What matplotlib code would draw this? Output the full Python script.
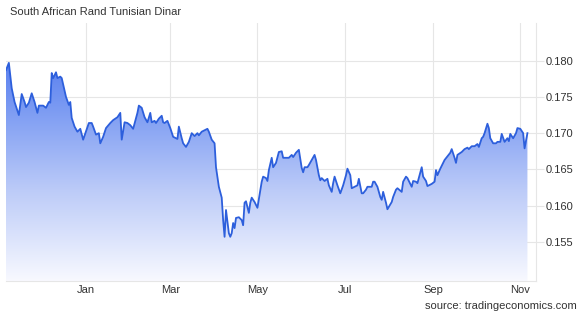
import numpy as np
import pandas as pd
import matplotlib
matplotlib.use("Agg")
import matplotlib.pyplot as plt
import matplotlib.dates as mdates
from matplotlib.colors import LinearSegmentedColormap
from matplotlib.patches import Polygon

plt.rcParams["font.family"] = ["Liberation Sans", "DejaVu Sans"]

title = "South African Rand Tunisian Dinar"
source = "source: tradingeconomics.com"

# ZAR/TND daily closes
dates = [
    "2024-11-06", "2024-11-08", "2024-11-10", "2024-11-12", "2024-11-15", "2024-11-17",
    "2024-11-19", "2024-11-20", "2024-11-22", "2024-11-24", "2024-11-26", "2024-11-28",
    "2024-11-29", "2024-12-02", "2024-12-04", "2024-12-06", "2024-12-07", "2024-12-08",
    "2024-12-09", "2024-12-11", "2024-12-12", "2024-12-14", "2024-12-15", "2024-12-18",
    "2024-12-20", "2024-12-21", "2024-12-22", "2024-12-24", "2024-12-26", "2024-12-28",
    "2024-12-30", "2025-01-03", "2025-01-05", "2025-01-06", "2025-01-08", "2025-01-10",
    "2025-01-11", "2025-01-13", "2025-01-15", "2025-01-18", "2025-01-20", "2025-01-23",
    "2025-01-25", "2025-01-26", "2025-01-28", "2025-01-30", "2025-02-01", "2025-02-03",
    "2025-02-06", "2025-02-07", "2025-02-09", "2025-02-11", "2025-02-13", "2025-02-15",
    "2025-02-16", "2025-02-18", "2025-02-19", "2025-02-21", "2025-02-23", "2025-02-24",
    "2025-02-25", "2025-02-27", "2025-03-01", "2025-03-03", "2025-03-06", "2025-03-07",
    "2025-03-09", "2025-03-10", "2025-03-12", "2025-03-14", "2025-03-16", "2025-03-18",
    "2025-03-20", "2025-03-21", "2025-03-23", "2025-03-27", "2025-03-28", "2025-03-30",
    "2025-04-01", "2025-04-02", "2025-04-04", "2025-04-06", "2025-04-07", "2025-04-08",
    "2025-04-09", "2025-04-11", "2025-04-12", "2025-04-13", "2025-04-14", "2025-04-15",
    "2025-04-16", "2025-04-18", "2025-04-20", "2025-04-21", "2025-04-22", "2025-04-23",
    "2025-04-25", "2025-04-26", "2025-04-27", "2025-04-29", "2025-05-01", "2025-05-04",
    "2025-05-05", "2025-05-07", "2025-05-08", "2025-05-09", "2025-05-11", "2025-05-12",
    "2025-05-14", "2025-05-16", "2025-05-18", "2025-05-19", "2025-05-21", "2025-05-23",
    "2025-05-25", "2025-05-26", "2025-05-28", "2025-05-30", "2025-06-01", "2025-06-02",
    "2025-06-03", "2025-06-05", "2025-06-06", "2025-06-08", "2025-06-10", "2025-06-11",
    "2025-06-13", "2025-06-14", "2025-06-15", "2025-06-17", "2025-06-19", "2025-06-20",
    "2025-06-22", "2025-06-23", "2025-06-24", "2025-06-26", "2025-06-28", "2025-06-30",
    "2025-07-02", "2025-07-03", "2025-07-05", "2025-07-06", "2025-07-08", "2025-07-10",
    "2025-07-11", "2025-07-13", "2025-07-14", "2025-07-16", "2025-07-17", "2025-07-20",
    "2025-07-21", "2025-07-22", "2025-07-24", "2025-07-26", "2025-07-27", "2025-07-28",
    "2025-07-30", "2025-07-31", "2025-08-03", "2025-08-04", "2025-08-06", "2025-08-07",
    "2025-08-10", "2025-08-11", "2025-08-13", "2025-08-14", "2025-08-17", "2025-08-18",
    "2025-08-20", "2025-08-21", "2025-08-24", "2025-08-25", "2025-08-27", "2025-08-28",
    "2025-08-31", "2025-09-02", "2025-09-03", "2025-09-04", "2025-09-06", "2025-09-08",
    "2025-09-09", "2025-09-11", "2025-09-13", "2025-09-14", "2025-09-16", "2025-09-17",
    "2025-09-18", "2025-09-21", "2025-09-23", "2025-09-25", "2025-09-26", "2025-09-28",
    "2025-09-30", "2025-10-02", "2025-10-03", "2025-10-05", "2025-10-06", "2025-10-07",
    "2025-10-09", "2025-10-10", "2025-10-11", "2025-10-13", "2025-10-15", "2025-10-16",
    "2025-10-18", "2025-10-19", "2025-10-21", "2025-10-23", "2025-10-24", "2025-10-25",
    "2025-10-27", "2025-10-29", "2025-10-30", "2025-11-01", "2025-11-03", "2025-11-04",
    "2025-11-06",
]
values = [
    0.1787, 0.1797, 0.1762, 0.1743, 0.1725, 0.1754,
    0.1743, 0.1736, 0.1742, 0.1755, 0.1743, 0.1728,
    0.1738, 0.1738, 0.1735, 0.1743, 0.1742, 0.1783,
    0.1776, 0.1784, 0.1776, 0.1778, 0.1776, 0.1750,
    0.1739, 0.1743, 0.1721, 0.1709, 0.1702, 0.1706,
    0.1691, 0.1714, 0.1714, 0.1709, 0.1698, 0.1700,
    0.1686, 0.1695, 0.1707, 0.1714, 0.1718, 0.1722,
    0.1728, 0.1691, 0.1715, 0.1714, 0.1711, 0.1706,
    0.1728, 0.1738, 0.1735, 0.1722, 0.1715, 0.1728,
    0.1715, 0.1717, 0.1714, 0.1720, 0.1724, 0.1715,
    0.1714, 0.1717, 0.1707, 0.1695, 0.1692, 0.1709,
    0.1693, 0.1686, 0.1681, 0.1688, 0.1700, 0.1696,
    0.1700, 0.1697, 0.1702, 0.1706, 0.1702, 0.1691,
    0.1686, 0.1653, 0.1626, 0.1611, 0.1580, 0.1557,
    0.1594, 0.1562, 0.1557, 0.1562, 0.1576, 0.1569,
    0.1583, 0.1584, 0.1580, 0.1573, 0.1604, 0.1606,
    0.1590, 0.1604, 0.1611, 0.1605, 0.1597, 0.1633,
    0.1640, 0.1638, 0.1634, 0.1649, 0.1666, 0.1653,
    0.1659, 0.1674, 0.1675, 0.1666, 0.1666, 0.1666,
    0.1670, 0.1667, 0.1673, 0.1677, 0.1652, 0.1646,
    0.1653, 0.1653, 0.1656, 0.1663, 0.1670, 0.1663,
    0.1642, 0.1635, 0.1638, 0.1634, 0.1637, 0.1628,
    0.1619, 0.1631, 0.1640, 0.1628, 0.1617, 0.1628,
    0.1642, 0.1651, 0.1642, 0.1624, 0.1626, 0.1628,
    0.1637, 0.1617, 0.1617, 0.1622, 0.1626, 0.1626,
    0.1633, 0.1633, 0.1626, 0.1612, 0.1608, 0.1619,
    0.1604, 0.1595, 0.1605, 0.1612, 0.1622, 0.1624,
    0.1619, 0.1633, 0.1640, 0.1638, 0.1626, 0.1634,
    0.1633, 0.1631, 0.1653, 0.1640, 0.1634, 0.1627,
    0.1630, 0.1633, 0.1649, 0.1642, 0.1651, 0.1659,
    0.1663, 0.1668, 0.1673, 0.1678, 0.1666, 0.1659,
    0.1670, 0.1674, 0.1678, 0.1680, 0.1678, 0.1682,
    0.1682, 0.1685, 0.1681, 0.1693, 0.1695, 0.1700,
    0.1713, 0.1707, 0.1693, 0.1686, 0.1686, 0.1688,
    0.1688, 0.1699, 0.1688, 0.1693, 0.1689, 0.1699,
    0.1693, 0.1700, 0.1707, 0.1706, 0.1700, 0.1679,
    0.1700,
]
tick_dates = ["2025-01-01", "2025-03-01", "2025-05-01", "2025-07-01", "2025-09-01", "2025-11-01"]
tick_labels = ["Jan", "Mar", "May", "Jul", "Sep", "Nov"]
y_ticks = [0.155, 0.160, 0.165, 0.170, 0.175, 0.180]

x = mdates.date2num(pd.to_datetime(dates))
y = np.array(values)
ymin, ymax = 0.1496, 0.1852
xmin, xmax = x[0], mdates.date2num(pd.Timestamp("2025-11-12"))

fig = plt.figure(figsize=(5.86, 3.16), dpi=100)
ax = fig.add_axes([6 / 586, 1 - 281 / 316, 530 / 586, 258 / 316])

grid_c = "#e6e6e6"
ax.set_xlim(xmin, xmax)
ax.set_ylim(ymin, ymax)

# gradient fill under the line
cmap = LinearSegmentedColormap.from_list(
    "tefill", [(0, "#f8f9ff"), (0.35, "#bccbf8"), (0.7, "#7596f2"), (1, "#3d69ec")])
grad = np.linspace(0, 1, 256).reshape(-1, 1)
img = ax.imshow(grad, cmap=cmap, aspect="auto", origin="lower",
                extent=[xmin, xmax, ymin, ymax], zorder=2)
poly = Polygon(np.column_stack([np.r_[x[0], x, x[-1]], np.r_[ymin, y, ymin]]),
               closed=True, facecolor="none", edgecolor="none")
ax.add_patch(poly)
img.set_clip_path(poly)

ax.plot(x, y, color="#2d5fdc", linewidth=1.3, zorder=3)

ax.set_xticks(mdates.date2num(pd.to_datetime(tick_dates)))
ax.set_xticklabels(tick_labels)
ax.set_yticks(y_ticks)
ax.set_yticklabels([f"{v:.3f}" for v in y_ticks])
ax.yaxis.tick_right()
ax.grid(True, color=grid_c, linewidth=0.8, zorder=0)
ax.set_axisbelow(True)

for side in ["top", "left"]:
    ax.spines[side].set_visible(False)
for side in ["bottom", "right"]:
    ax.spines[side].set_color(grid_c)
    ax.spines[side].set_linewidth(0.8)

ax.tick_params(axis="y", length=6, color=grid_c, labelsize=8, labelcolor="#333333", pad=1)
ax.tick_params(axis="x", length=0, labelsize=8, labelcolor="#333333", pad=3)

fig.text(10 / 586, 1 - 12 / 316, title, fontsize=8, color="#333333", va="center", ha="left")
fig.text(577 / 586, 1 - 306 / 316, source, fontsize=8, color="#333333", va="center", ha="right")

fig.savefig("out.png", dpi=100)
